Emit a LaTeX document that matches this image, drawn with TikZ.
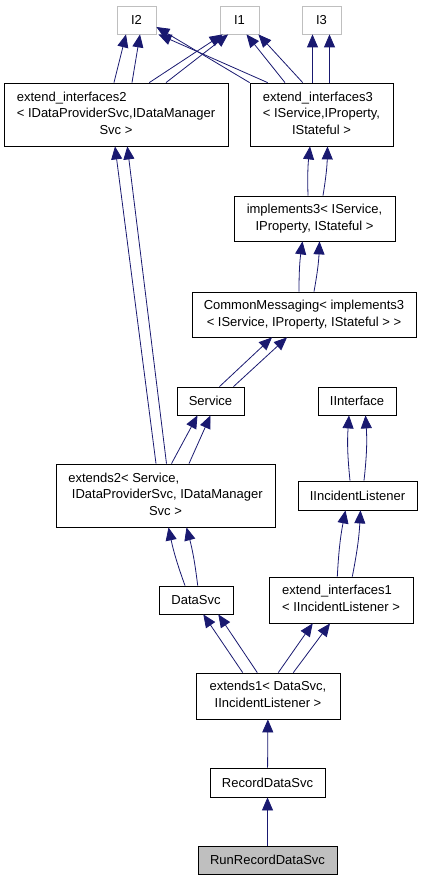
\documentclass[tikz,border=0pt]{standalone}
\usepackage{fontspec}
\setmainfont{Liberation Sans}
\usetikzlibrary{arrows.meta,positioning}
\definecolor{edgeblue}{RGB}{25,25,112}
\definecolor{ifacegray}{RGB}{191,191,191}
\newcommand{\lastrow}[1]{\multicolumn{1}{@{}c@{}}{#1}}
\tikzset{
    classbox/.style={rectangle, draw, line width=0.8pt, inner sep=0pt, font=\fontsize{13}{16.8}\selectfont},
    ifacebox/.style={classbox, draw=ifacegray},
    rootbox/.style={classbox, fill=ifacegray},
    inherit/.style={draw=edgeblue, line width=0.8pt, -{Triangle[length=13pt,width=11pt]}}
}
\begin{document}
\begin{tikzpicture}[x=1pt,y=-1pt]
    \useasboundingbox (0,0) rectangle (421,880);
    % interfaces on top
    \node[ifacebox, minimum width=39pt, minimum height=28pt] (I2) at (136.5,20) {I2};
    \node[ifacebox, minimum width=39pt, minimum height=28pt] (I1) at (239.5,20) {I1};
    \node[ifacebox, minimum width=39pt, minimum height=28pt] (I3) at (321.5,20) {I3};
    % classes
    \node[classbox, minimum width=224pt, minimum height=63pt] (ei2) at (116,114.5)
        {\begin{tabular}{@{}l@{}}extend\_interfaces2\\< IDataProviderSvc,IDataManager\\\lastrow{Svc >}\end{tabular}};
    \node[classbox, minimum width=143pt, minimum height=63pt] (ei3) at (321.5,114.5)
        {\begin{tabular}{@{}l@{}}extend\_interfaces3\\< IService,IProperty,\\\lastrow{IStateful >}\end{tabular}};
    \node[classbox, minimum width=161pt, minimum height=45pt] (impl3) at (314.5,218.5)
        {\begin{tabular}{@{}l@{}}implements3< IService,\\\lastrow{IProperty, IStateful >}\end{tabular}};
    \node[classbox, minimum width=224pt, minimum height=45pt] (cm) at (304,314.5)
        {\begin{tabular}{@{}l@{}}CommonMessaging< implements3\\\lastrow{< IService, IProperty, IStateful > >}\end{tabular}};
    \node[classbox, minimum width=67pt, minimum height=28pt] (service) at (210.5,401) {Service};
    \node[classbox, minimum width=78pt, minimum height=28pt] (iinterface) at (357,401) {IInterface};
    \node[classbox, minimum width=219pt, minimum height=63pt] (extends2) at (165.5,495.5)
        {\begin{tabular}{@{}l@{}}extends2< Service,\\\ IDataProviderSvc, IDataManager\\\lastrow{Svc >}\end{tabular}};
    \node[classbox, minimum width=119pt, minimum height=29pt] (iil) at (357.5,495.5) {IIncidentListener};
    \node[classbox, minimum width=74pt, minimum height=28pt] (datasvc) at (196,600) {DataSvc};
    \node[classbox, minimum width=144pt, minimum height=46pt] (ei1) at (341,600)
        {\begin{tabular}{@{}l@{}}extend\_interfaces1\\\lastrow{< IIncidentListener >}\end{tabular}};
    \node[classbox, minimum width=144pt, minimum height=46pt] (extends1) at (268,696)
        {\begin{tabular}{@{}l@{}}extends1< DataSvc,\\\lastrow{IIncidentListener >}\end{tabular}};
    \node[classbox, minimum width=115pt, minimum height=29pt] (record) at (267.5,782.5) {RecordDataSvc};
    \node[rootbox, minimum width=139pt, minimum height=28pt] (run) at (267.5,860) {RunRecordDataSvc};
    % inheritance edges
    \draw[inherit] ([xshift=-2pt]ei2.north) -- ([xshift=-10.5pt]I2.south);
    \draw[inherit] ([xshift=16pt]ei2.north) -- ([xshift=3.5pt]I2.south);
    \draw[inherit] ([xshift=33.3pt]ei2.north) -- ([xshift=3pt]I1.south west);
    \draw[inherit] ([xshift=50pt]ei2.north) -- ([xshift=8.5pt]I1.south west);
    \draw[inherit] (ei3.north west) -- ([yshift=-7pt]I2.east);
    \draw[inherit] ([xshift=18pt]ei3.north west) -- ([xshift=2pt]I2.south east);
    \draw[inherit] ([xshift=-36.5pt]ei3.north) -- ([xshift=7pt]I1.south);
    \draw[inherit] ([xshift=-18.8pt]ei3.north) -- ([xshift=-1pt]I1.south east);
    \draw[inherit] ([xshift=-9pt]ei3.north) -- ([xshift=-9pt]I3.south);
    \draw[inherit] ([xshift=8pt]ei3.north) -- ([xshift=8pt]I3.south);
    \draw[inherit] ([xshift=-6.5pt]impl3.north) to[bend left=4] ([xshift=-11.5pt]ei3.south);
    \draw[inherit] ([xshift=8.5pt]impl3.north) to[bend right=4] ([xshift=6pt]ei3.south);
    \draw[inherit] ([xshift=-5pt]cm.north) to[bend left=4] ([xshift=-12pt]impl3.south);
    \draw[inherit] ([xshift=10pt]cm.north) to[bend right=4] ([xshift=5pt]impl3.south);
    \draw[inherit] ([xshift=9pt]service.north) -- ([xshift=-32pt]cm.south);
    \draw[inherit] ([xshift=23pt]service.north) -- ([xshift=-17pt]cm.south);
    \draw[inherit] ([xshift=-9.5pt]extends2.north) -- ([xshift=-1pt]ei2.south);
    \draw[inherit] ([xshift=1pt]extends2.north) -- ([xshift=11.3pt]ei2.south);
    \draw[inherit] ([xshift=6pt]extends2.north) -- ([xshift=-13pt]service.south);
    \draw[inherit] ([xshift=23.5pt]extends2.north) -- (service.south);
    \draw[inherit] ([xshift=-7.5pt]iil.north) to[bend left=5] ([xshift=-8pt]iinterface.south);
    \draw[inherit] ([xshift=6.5pt]iil.north) to[bend right=5] ([xshift=8.5pt]iinterface.south);
    \draw[inherit] ([xshift=-3.7pt]ei1.north) to[bend left=4] ([xshift=-12pt]iil.south);
    \draw[inherit] ([xshift=11.3pt]ei1.north) to[bend right=4] ([xshift=3pt]iil.south);
    \draw[inherit] ([xshift=-11pt]datasvc.north) to[bend left=4] ([xshift=3pt]extends2.south);
    \draw[inherit] ([xshift=1.7pt]datasvc.north) to[bend right=4] ([xshift=21pt]extends2.south);
    \draw[inherit] ([xshift=-25.3pt]extends1.north) -- ([xshift=7.3pt]datasvc.south);
    \draw[inherit] ([xshift=-10.7pt]extends1.north) -- ([xshift=22.3pt]datasvc.south);
    \draw[inherit] ([xshift=10.3pt]extends1.north) -- ([xshift=-28.3pt]ei1.south);
    \draw[inherit] ([xshift=25.3pt]extends1.north) -- ([xshift=-11pt]ei1.south);
    \draw[inherit] (record) -- (extends1);
    \draw[inherit] (run) -- (record);
\end{tikzpicture}
\end{document}
